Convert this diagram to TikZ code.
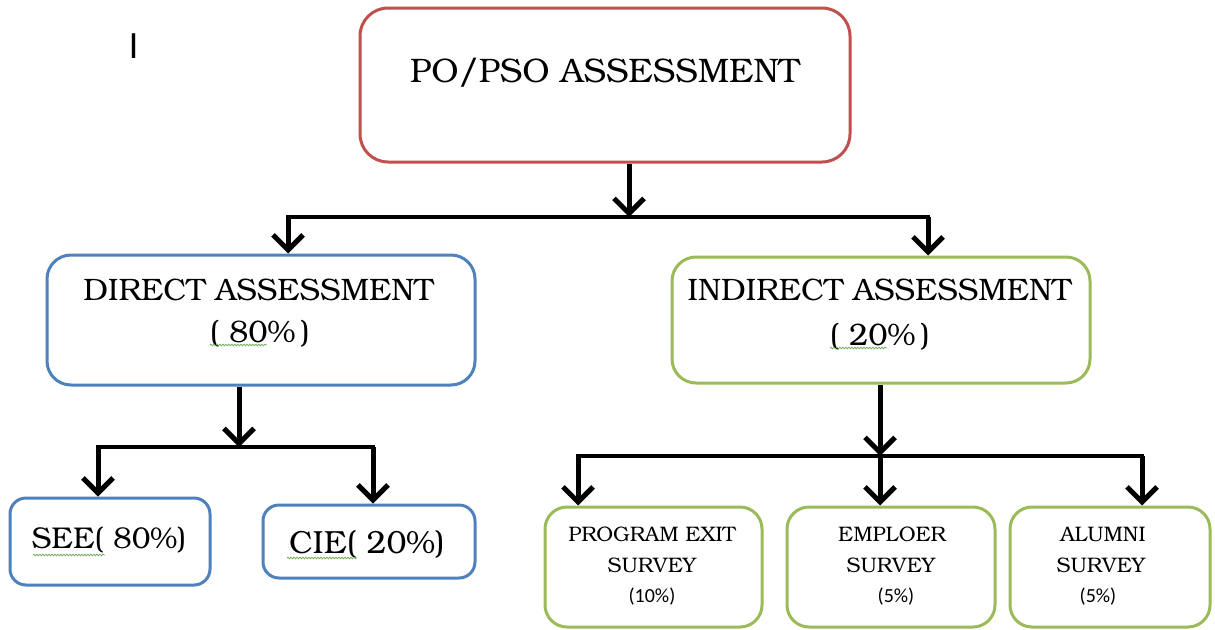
\documentclass[tikz,border=0pt]{standalone}
\usepackage{fontspec}
\newfontfamily\bk{texgyrebonum-regular.otf}
\newfontfamily\carl{Carlito}
\newfontfamily\lsans{Liberation Sans}
\usetikzlibrary{arrows.meta,decorations.pathmorphing}
\definecolor{rootred}{RGB}{192,80,77}
\definecolor{dblue}{RGB}{79,129,189}
\definecolor{igreen}{RGB}{155,187,89}
\definecolor{squigcol}{RGB}{110,170,90}
\tikzset{
  rootbox/.style={draw=rootred, line width=3pt, rounded corners=28pt, minimum width=490pt, minimum height=154pt, inner sep=0pt},
  mainbox/.style={line width=3pt, rounded corners=24pt, inner sep=0pt},
  smallbox/.style={draw=dblue, line width=3pt, rounded corners=16pt, inner sep=0pt},
  survbox/.style={draw=igreen, line width=3pt, rounded corners=22pt, minimum height=120pt, inner sep=0pt},
  lbl/.style={inner sep=0pt, anchor=base, text=black},
  arr/.style={line width=5pt, -{Straight Barb[length=15pt,width=30pt]}},
  barline/.style={line width=4.5pt, line cap=rect},
  squiggle/.style={draw=squigcol, line width=0.7pt, decorate, decoration={snake, amplitude=0.9pt, segment length=3pt}},
  fA/.style={font={\bk\fontsize{34}{40}\selectfont}},
  fB/.style={font={\bk\fontsize{31}{36}\selectfont}},
  fS/.style={font={\bk\fontsize{21}{24}\selectfont}},
  fP/.style={font={\carl\fontsize{20}{24}\selectfont}}
}
\begin{document}
\begin{tikzpicture}[x=1pt,y=-1pt]
\fill[white] (0,0) rectangle (1215,629);
\useasboundingbox (0,0) rectangle (1215,629);

\node[lbl, font={\lsans\fontsize{36}{40}\selectfont}] (cursorI) at (133.5,58) {I};

% boxes
\node[rootbox] (root) at (605,85) {};
\node[lbl, fA] (rootT) at (605,82) {PO/PSO ASSESSMENT};

\node[mainbox, draw=dblue, minimum width=428pt, minimum height=130pt] (direct) at (261,320) {};
\node[lbl, fB] (directA) at (258.5,300) {DIRECT ASSESSMENT};
\node[lbl, fB] (directB) at (260,342) {( 80\%\,)};

\node[mainbox, draw=igreen, minimum width=418pt, minimum height=126pt] (indirect) at (881,320) {};
\node[lbl, fB] (indirectA) at (879.5,300) {INDIRECT ASSESSMENT};
\node[lbl, fB] (indirectB) at (880,345) {( 20\%\,)};

\node[smallbox, minimum width=200pt, minimum height=87pt] (see) at (110,541.5) {};
\node[lbl, font={\bk\fontsize{30}{36}\selectfont}] (seeT) at (109,548) {SEE( 80\%)};

\node[smallbox, minimum width=212pt, minimum height=73pt] (cie) at (369,541.5) {};
\node[lbl, font={\bk\fontsize{32}{36}\selectfont}] (cieT) at (367,553) {CIE( 20\%)};

\node[survbox, minimum width=217pt] (pes) at (653.5,567) {};
\node[lbl, fS] (pesA) at (652,541) {PROGRAM EXIT};
\node[lbl, fS] (pesB) at (652,572) {SURVEY};
\node[lbl, fP] (pesC) at (652,602) {(10\%)};

\node[survbox, minimum width=208pt] (emp) at (891,567) {};
\node[lbl, fS] (empA) at (892,541) {EMPLOER};
\node[lbl, fS] (empB) at (891,572) {SURVEY};
\node[lbl, fP] (empC) at (896,602) {(5\%)};

\node[survbox, minimum width=200pt] (alu) at (1110,567) {};
\node[lbl, fS] (aluA) at (1103,541) {ALUMNI};
\node[lbl, fS] (aluB) at (1101,572) {SURVEY};
\node[lbl, fP] (aluC) at (1098,602) {(5\%)};

% spell-check squiggles
\draw[squiggle] (210,345) -- (267,345);
\draw[squiggle] (830,348) -- (887,348);
\draw[squiggle] (33,555) -- (105,555);
\draw[squiggle] (287,558) -- (357,558);

% connectors
\coordinate (j1) at (629,217);
\coordinate (j1L) at (288,217);
\coordinate (j1R) at (928,217);
\draw[barline] (j1L) -- (j1R);
\draw[arr] (root.south -| j1) -- (j1);
\draw[arr] (j1L) -- (j1L |- direct.north);
\draw[arr] (j1R) -- (j1R |- indirect.north);

\coordinate (j2) at (239,447);
\coordinate (j2L) at (98,447);
\coordinate (j2R) at (373,447);
\draw[barline] (j2L) -- (j2R);
\draw[arr] (direct.south -| j2) -- (j2);
\draw[arr] (j2L) -- (j2L |- see.north);
\draw[arr] (j2R) -- (j2R |- cie.north);

\coordinate (j3) at (880,456);
\coordinate (j3L) at (578,456);
\coordinate (j3R) at (1142,456);
\draw[barline] (j3L) -- (j3R);
\draw[arr] (indirect.south -| j3) -- (j3);
\draw[arr] (j3L) -- (j3L |- pes.north);
\draw[arr] (j3) -- (j3 |- emp.north);
\draw[arr] (j3R) -- (j3R |- alu.north);
\end{tikzpicture}
\end{document}
